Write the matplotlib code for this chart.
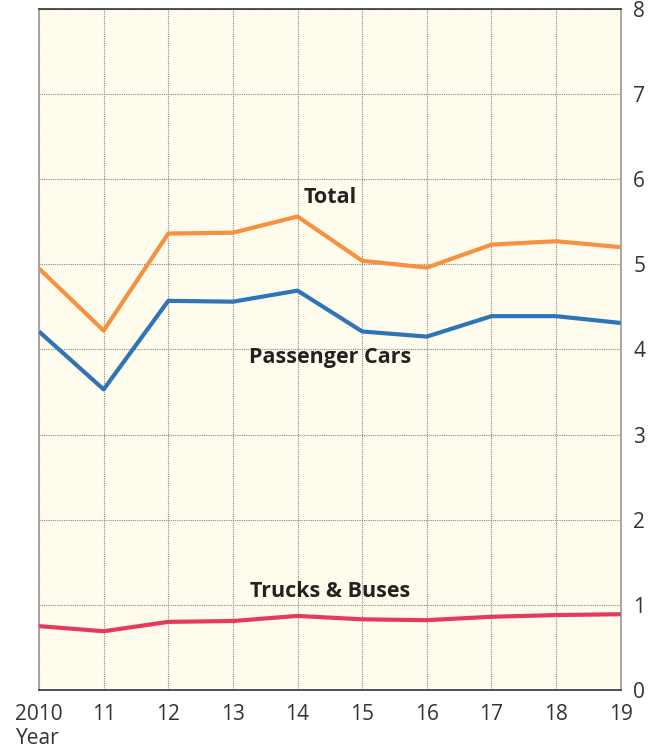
import matplotlib.pyplot as plt

plt.rcParams['font.family'] = ['Open Sans', 'DejaVu Sans']

years = [2010, 2011, 2012, 2013, 2014, 2015, 2016, 2017, 2018, 2019]
year_labels = ['2010', '11', '12', '13', '14', '15', '16', '17', '18', '19']
total = [4.95, 4.22, 5.36, 5.37, 5.56, 5.04, 4.96, 5.23, 5.27, 5.20]
passenger = [4.21, 3.53, 4.57, 4.56, 4.69, 4.21, 4.15, 4.39, 4.39, 4.31]
trucks = [0.75, 0.69, 0.80, 0.81, 0.87, 0.83, 0.82, 0.86, 0.88, 0.89]

fig = plt.figure(figsize=(6.5, 7.47), dpi=100)
ax = fig.add_axes([0.06, 0.0763, 0.895, 0.912])
ax.set_facecolor('#FFFCEE')

ax.plot(years, total, color='#F6913F', lw=3, solid_capstyle='butt', zorder=3)
ax.plot(years, passenger, color='#2E74B9', lw=3, solid_capstyle='butt', zorder=3)
ax.plot(years, trucks, color='#E63A5B', lw=3, solid_capstyle='butt', zorder=3)

lab = dict(ha='center', va='center', fontsize=15.5, fontweight='bold', color='#222222')
ax.text(2014.5, 5.78, 'Total', **lab)
ax.text(2014.5, 3.90, 'Passenger Cars', **lab)
ax.text(2014.5, 1.16, 'Trucks & Buses', **lab)

ax.set_xlim(2010, 2019)
ax.set_ylim(0, 8)
ax.set_xticks(years)
ax.set_xticklabels(year_labels)
ax.set_yticks(range(0, 9))
ax.yaxis.tick_right()
ax.tick_params(axis='both', length=0, labelsize=15, colors='#333333')
ax.tick_params(axis='x', pad=10)
ax.tick_params(axis='y', pad=9)
ax.grid(True, color='#888888', linestyle=(0, (1, 1)), lw=0.8)

for side in ['left', 'right']:
    ax.spines[side].set_color('#999999')
    ax.spines[side].set_linewidth(1.2)
ax.spines['top'].set_color('#333333')
ax.spines['bottom'].set_color('#333333')
ax.spines['top'].set_linewidth(1.2)
ax.spines['bottom'].set_linewidth(1.2)

fig.text(38 / 650, 1 - 738 / 747, 'Year', ha='center', va='center', fontsize=15, color='#333333')

fig.savefig('out.png', dpi=100)
